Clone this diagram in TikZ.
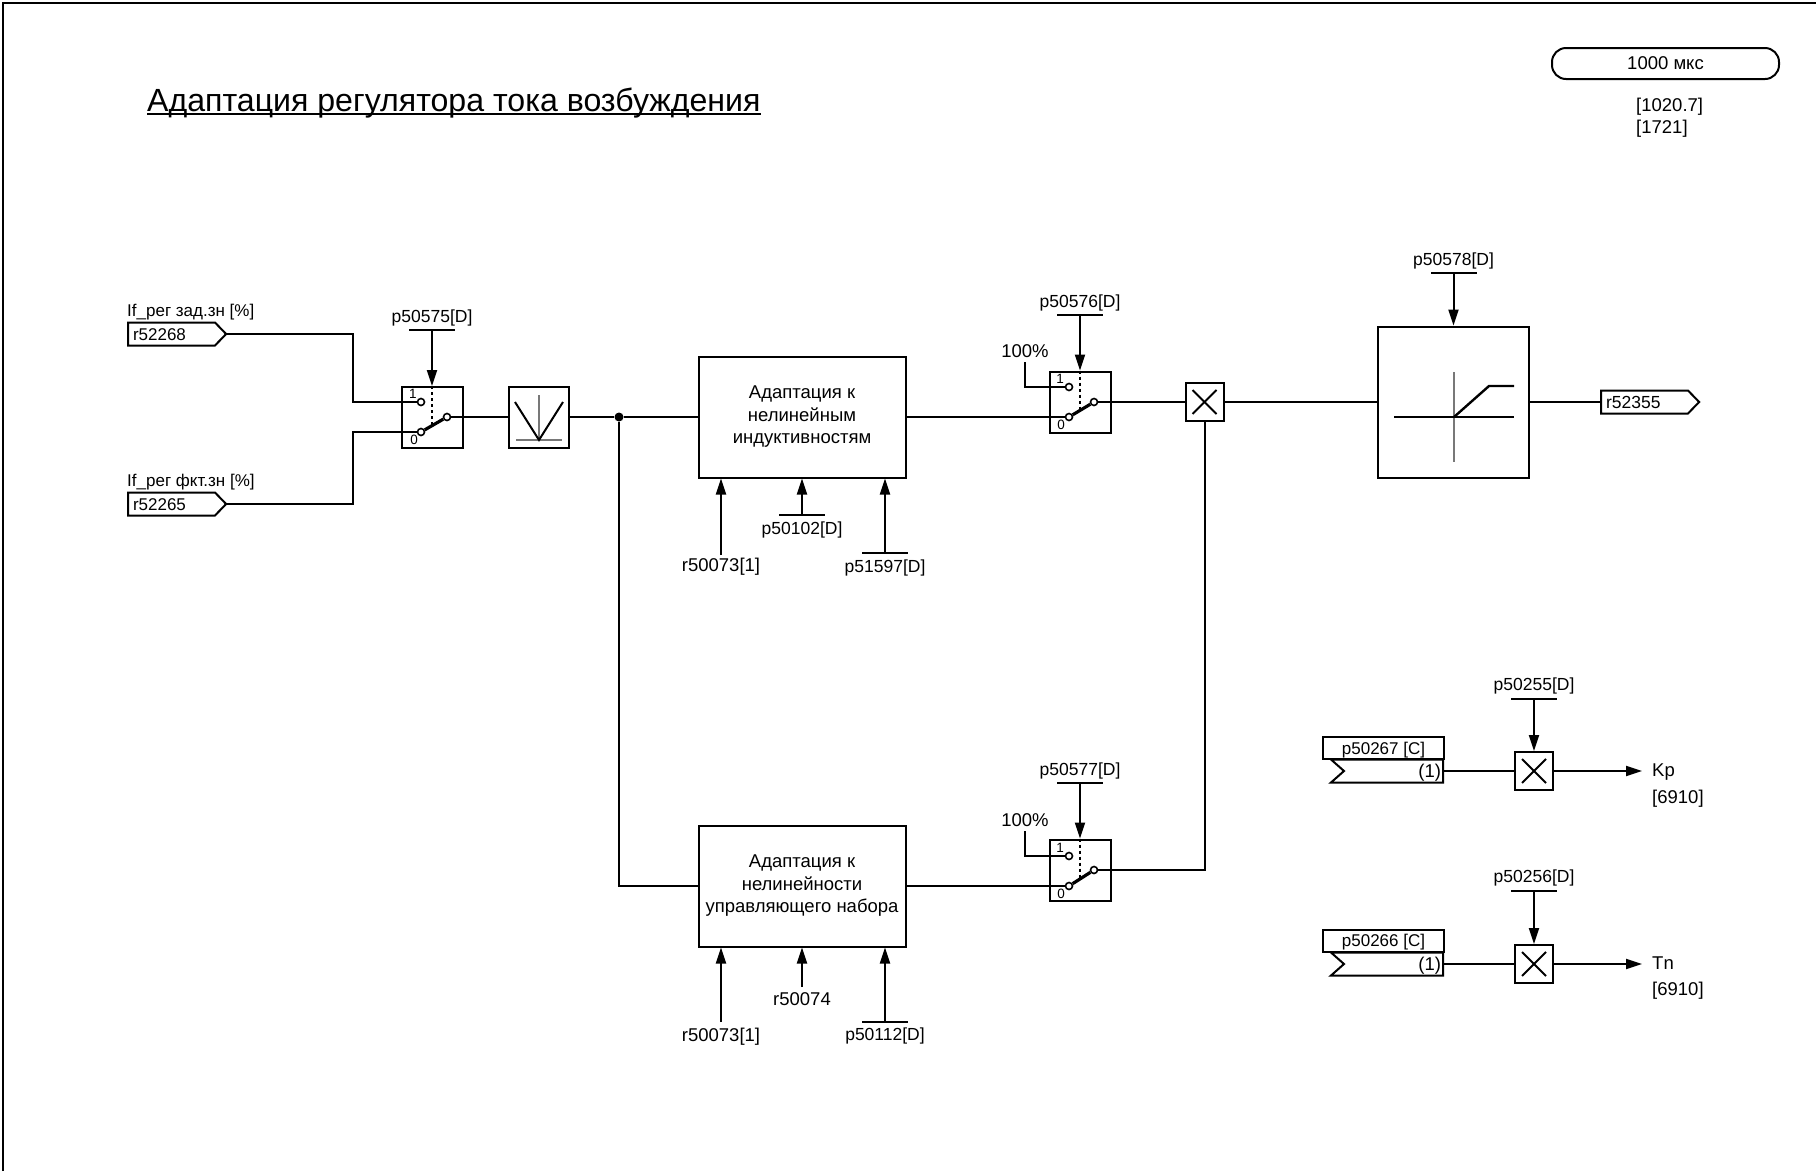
\documentclass[tikz,border=0pt]{standalone}
\usepackage{fontspec}
\setmainfont{Liberation Sans}
\usepackage{xcolor}
\usepackage{tikz}
\usetikzlibrary{arrows.meta, positioning, shapes.symbols}
\definecolor{axisgray}{RGB}{120, 120, 120}
\newcommand{\labelfont}{\fontsize{17.5}{22.5}\selectfont}
\newcommand{\wordfont}{\fontsize{18.5}{22.5}\selectfont}
\newcommand{\tagfont}{\fontsize{17}{22.5}\selectfont}

\begin{document}
\begin{tikzpicture}[
    x=1pt, y=-1pt,
    wire/.style={line width=2pt},
    arr/.style={-{Stealth[length=16pt, width=10pt, inset=0pt]}, line width=2pt},
    txt/.style={inner sep=0pt, font=\labelfont, text height=11pt, text depth=1pt},
    wrd/.style={inner sep=0pt, font=\wordfont, text height=12pt, text depth=0pt},
    block/.style={rectangle, draw, line width=2pt, fill=white, inner sep=0pt, minimum width=#1},
    swbox/.style={block=61pt, minimum height=61pt},
    term/.style={circle, draw, line width=1.6pt, fill=white, inner sep=0pt, minimum size=7pt},
    swnum/.style={inner sep=0pt, font=\fontsize{13.5}{14}\selectfont},
    swarm/.style={line width=3.2pt},
    swdash/.style={line width=1.6pt, dash pattern=on 3pt off 3pt},
    parbar/.style={rectangle, fill=black, inner sep=0pt, minimum width=46pt, minimum height=2pt},
    mulbox/.style={block=38pt, minimum height=38pt, path picture={
        \draw[line width=2pt] ([shift={(7,7)}]path picture bounding box.north west) -- ([shift={(-7,-7)}]path picture bounding box.south east);
        \draw[line width=2pt] ([shift={(-7,7)}]path picture bounding box.north east) -- ([shift={(7,-7)}]path picture bounding box.south west);}},
    tagout/.style={signal, signal to=east, signal pointer angle=92, draw, line width=2pt, fill=white, anchor=west,
        inner xsep=5pt, inner ysep=0pt, minimum height=23pt, text width=77pt, align=left, font=\tagfont, text height=12pt, text depth=0pt},
    tagin/.style={signal, signal from=west, signal to=nowhere, signal pointer angle=83, draw, line width=2pt, fill=white, anchor=east,
        inner xsep=2pt, inner ysep=0pt, minimum height=23pt, text width=95pt, align=right, font=\wordfont, text height=12pt, text depth=0pt}
]
\useasboundingbox (0,0) rectangle (1816,1171);

% Frame and title
\coordinate (framea) at (3,1171);
\coordinate (frameb) at (3,3);
\coordinate (framec) at (1816,3);
\draw[line width=2pt] (framea) -- (frameb) -- (framec);
\node[inner sep=0pt, font=\fontsize{32.1}{36}\selectfont, anchor=base west] (title) at (147,111) {Адаптация регулятора тока возбуждения};
\draw[line width=1.7pt] ([yshift=-3pt]title.base west) -- ([yshift=-3pt]title.base east);

% Sampling time
\node[rectangle, rounded corners=14pt, draw, line width=2pt, minimum width=227pt, minimum height=31pt, inner sep=0pt, font=\wordfont] (cycle) at (1665.5,63.5) {1000 мкс};
\node[wrd, anchor=west] (refa) at (1636,105) {[1020.7]};
\node[wrd, anchor=west] (refb) at (1636,127) {[1721]};

% Input signals
\node[txt, anchor=west, font=\tagfont] (setlbl) at (127,311) {If\_рег зад.зн [\%]};
\node[tagout] (setval) at (127,334) {r52268};
\node[txt, anchor=west, font=\tagfont] (actlbl) at (127,481) {If\_рег фкт.зн [\%]};
\node[tagout] (actval) at (127,504) {r52265};

% Input switch
\node[swbox] (swin) at (432,417.5) {};
\node[term] (swinone) at (421,402) {};
\node[term] (swinzero) at (421,432) {};
\node[term] (swinout) at (447,417) {};
\node[swnum] (swinnumone) at (413,394) {1};
\node[swnum] (swinnumzero) at (414,440) {0};
\node[txt] (swinpar) at (432,317) {p50575[D]};
\node[parbar] (swinbar) at (432,330) {};
\coordinate (swinmid) at (432,426);

% Absolute value
\node[block=60pt, minimum height=61pt] (absv) at (539,417) {};
\coordinate (absva) at (515,402);
\coordinate (absvb) at (539,440);
\coordinate (absvc) at (563,402);
\coordinate (absvd) at (539,395);
\coordinate (absve) at (516,440);
\coordinate (absvf) at (562,440);
\draw[line width=1.2pt, axisgray] (absvd) -- (absvb);
\draw[line width=1.2pt, axisgray] (absve) -- (absvf);
\draw[line width=2pt] (absva) -- (absvb) -- (absvc);

\node[circle, fill=black, inner sep=0pt, minimum size=9pt] (fork) at (619,417) {};

% Adaptation blocks
\node[block=207pt, minimum height=121pt, align=center, font=\wordfont] (adind) at (802,417) {Адаптация к\\нелинейным\\индуктивностям\\[-18.5pt]};
\node[block=207pt, minimum height=121pt, align=center, font=\wordfont] (adctl) at (802,886) {Адаптация к\\нелинейности\\управляющего набора\\[-18.5pt]};

\node[wrd] (adindra) at (721,565) {r50073[1]};
\coordinate (adindrb) at (721,555);
\node[txt] (adindpa) at (802,529) {p50102[D]};
\node[parbar] (adindpb) at (802,515) {};
\node[txt] (adindpc) at (885,567) {p51597[D]};
\node[parbar] (adindpd) at (885,553) {};

\node[wrd] (adctlra) at (721,1035) {r50073[1]};
\coordinate (adctlrb) at (721,1022);
\node[wrd] (adctlrc) at (802,999) {r50074};
\coordinate (adctlrd) at (802,987);
\node[txt] (adctlpa) at (885,1035) {p50112[D]};
\node[parbar] (adctlpb) at (885,1022) {};

% Output switches
\node[swbox] (swind) at (1080,402) {};
\node[term] (swindone) at (1069,387) {};
\node[term] (swindzero) at (1069,417) {};
\node[term] (swindout) at (1094,402) {};
\node[swnum] (swindnumone) at (1060,379) {1};
\node[swnum] (swindnumzero) at (1061,425) {0};
\node[txt] (swindpar) at (1080,302) {p50576[D]};
\node[parbar] (swindbar) at (1080,315) {};
\node[wrd] (swindfix) at (1025,351) {100\%};
\coordinate (swindref) at (1025,362);
\coordinate (swindmid) at (1080,410);

\node[swbox] (swctl) at (1080,870) {};
\node[term] (swctlone) at (1069,856) {};
\node[term] (swctlzero) at (1069,886) {};
\node[term] (swctlout) at (1094,870) {};
\node[swnum] (swctlnumone) at (1060,848) {1};
\node[swnum] (swctlnumzero) at (1061,894) {0};
\node[txt] (swctlpar) at (1080,770) {p50577[D]};
\node[parbar] (swctlbar) at (1080,783) {};
\node[wrd] (swctlfix) at (1025,820) {100\%};
\coordinate (swctlref) at (1025,831);
\coordinate (swctlmid) at (1080,879);

% Multiplier and limiter
\node[mulbox] (mult) at (1204.5,402) {};
\node[block=151pt, minimum height=151pt] (limit) at (1453.5,402) {};
\coordinate (limita) at (1454,372);
\coordinate (limitb) at (1454,462);
\coordinate (limitc) at (1394,417);
\coordinate (limitd) at (1514,417);
\coordinate (limite) at (1454,417);
\coordinate (limitf) at (1489,386);
\coordinate (limitg) at (1514,386);
\draw[line width=1.2pt, axisgray] (limita) -- (limitb);
\draw[line width=1.2pt] (limitc) -- (limitd);
\draw[line width=2.4pt] (limite) -- (limitf) -- (limitg);
\node[txt] (limitpar) at (1453.5,260) {p50578[D]};
\node[parbar] (limitbar) at (1453.5,273) {};
\node[tagout, font=\labelfont] (outval) at (1600,402) {r52355};

% Kp and Tn
\node[block=121pt, minimum height=22pt, font=\tagfont, text height=12pt, text depth=0pt] (kpname) at (1383.5,748) {p50267 [C]};
\node[tagin] (kpfix) at (1444,771) {(1)};
\node[mulbox] (kpmul) at (1534,771) {};
\node[txt] (kppar) at (1534,685) {p50255[D]};
\node[parbar] (kpbar) at (1534,699) {};
\coordinate (kpend) at (1642,771);
\node[wrd, anchor=west] (kplbl) at (1652,770) {Kp};
\node[wrd, anchor=west] (kpref) at (1652,797) {[6910]};

\node[block=121pt, minimum height=22pt, font=\tagfont, text height=12pt, text depth=0pt] (tnname) at (1383.5,940.5) {p50266 [C]};
\node[tagin] (tnfix) at (1444,964) {(1)};
\node[mulbox] (tnmul) at (1534,964) {};
\node[txt] (tnpar) at (1534,877) {p50256[D]};
\node[parbar] (tnbar) at (1534,891) {};
\coordinate (tnend) at (1642,964);
\node[wrd, anchor=west] (tnlbl) at (1652,963) {Tn};
\node[wrd, anchor=west] (tnref) at (1652,989) {[6910]};

% Signal path
\draw[wire] (setval.east) -- ++(126,0) |- (swinone);
\draw[wire] (actval.east) -- ++(126,0) |- (swinzero);
\draw[wire] (swinout) -- (swinout -| absv.west);
\draw[wire] (absv.east) -- (fork);
\draw[wire] (fork) -- (adind.west);
\draw[wire] (fork) |- (adctl.west);
\draw[wire] (adind.east) -- (swindzero);
\draw[wire] (adctl.east) -- (swctlzero);
\draw[wire] (swindout) -- (mult.west);
\draw[wire] (swctlout) -| (mult.south);
\draw[wire] (mult.east) -- (mult.east -| limit.west);
\draw[wire] (limit.east |- outval.west) -- (outval.west);
\draw[wire] (swindref) |- (swindone);
\draw[wire] (swctlref) |- (swctlone);

% Switch arms
\draw[swarm] (swinzero) -- (swinout);
\draw[swarm] (swindzero) -- (swindout);
\draw[swarm] (swctlzero) -- (swctlout);
\draw[swdash] (swin.north) -- (swinmid);
\draw[swdash] (swind.north) -- (swindmid);
\draw[swdash] (swctl.north) -- (swctlmid);

% Parameter arrows
\draw[arr] (swinbar) -- (swin.north);
\draw[arr] (swindbar) -- (swind.north);
\draw[arr] (swctlbar) -- (swctl.north);
\draw[arr] (limitbar) -- (limit.north);
\draw[arr] (adindrb) -- (adindrb |- adind.south);
\draw[arr] (adindpb) -- (adindpb |- adind.south);
\draw[arr] (adindpd) -- (adindpd |- adind.south);
\draw[arr] (adctlrb) -- (adctlrb |- adctl.south);
\draw[arr] (adctlrd) -- (adctlrd |- adctl.south);
\draw[arr] (adctlpb) -- (adctlpb |- adctl.south);
\draw[arr] (kpbar) -- (kpmul.north);
\draw[arr] (tnbar) -- (tnmul.north);

% Gain outputs
\draw[wire] (kpfix.east) -- (kpmul.west);
\draw[wire] (tnfix.east) -- (tnmul.west);
\draw[arr] (kpmul.east) -- (kpend);
\draw[arr] (tnmul.east) -- (tnend);

\end{tikzpicture}
\end{document}
